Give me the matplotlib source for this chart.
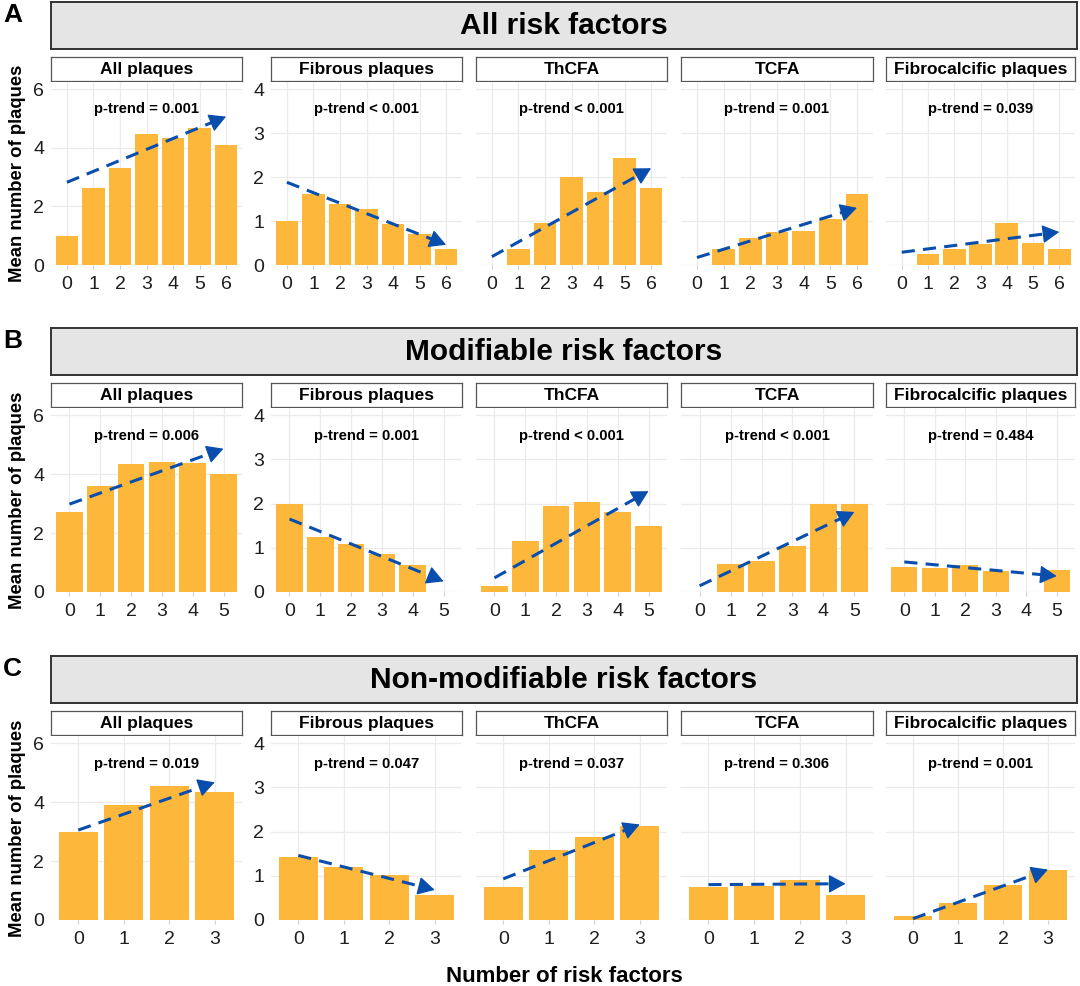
import numpy as np
import matplotlib
matplotlib.use("Agg")
import matplotlib.pyplot as plt

plt.rcParams['font.family'] = ['Liberation Sans', 'DejaVu Sans']

# ---- data ----
section_letters = ["A", "B", "C"]
section_titles = ["All risk factors", "Modifiable risk factors", "Non-modifiable risk factors"]
plaque_types = ["All plaques", "Fibrous plaques", "ThCFA", "TCFA", "Fibrocalcific plaques"]

n_factors_A = [0, 1, 2, 3, 4, 5, 6]
n_factors_B = [0, 1, 2, 3, 4, 5]
n_factors_C = [0, 1, 2, 3]

# mean number of plaques, A = all risk factors
A_all = [1.00, 2.61, 3.31, 4.48, 4.32, 4.67, 4.10]
A_fibrous = [1.00, 1.62, 1.39, 1.28, 0.93, 0.70, 0.37]
A_thcfa = [0.00, 0.37, 0.96, 2.00, 1.66, 2.44, 1.75]
A_tcfa = [0.00, 0.37, 0.61, 0.75, 0.77, 1.05, 1.62]
A_fibrocalc = [0.00, 0.26, 0.36, 0.47, 0.96, 0.51, 0.37]

# B = modifiable risk factors
B_all = [2.71, 3.60, 4.35, 4.41, 4.38, 4.00]
B_fibrous = [2.00, 1.24, 1.09, 0.87, 0.60, 0.00]
B_thcfa = [0.14, 1.16, 1.94, 2.03, 1.80, 1.50]
B_tcfa = [0.00, 0.64, 0.71, 1.03, 2.00, 2.00]
B_fibrocalc = [0.57, 0.55, 0.61, 0.48, 0.00, 0.50]

# C = non-modifiable risk factors
C_all = [3.00, 3.91, 4.54, 4.34]
C_fibrous = [1.42, 1.19, 1.01, 0.56]
C_thcfa = [0.75, 1.58, 1.87, 2.12]
C_tcfa = [0.75, 0.77, 0.90, 0.56]
C_fibrocalc = [0.09, 0.39, 0.79, 1.12]

ptrend_A = ["p-trend = 0.001", "p-trend < 0.001", "p-trend < 0.001", "p-trend = 0.001", "p-trend = 0.039"]
ptrend_B = ["p-trend = 0.006", "p-trend = 0.001", "p-trend < 0.001", "p-trend < 0.001", "p-trend = 0.484"]
ptrend_C = ["p-trend = 0.019", "p-trend = 0.047", "p-trend = 0.037", "p-trend = 0.306", "p-trend = 0.001"]

# trend line value at the first and at the last category
trend_A = [(2.82, 5.06), (1.88, 0.46), (0.19, 2.20), (0.17, 1.30), (0.29, 0.75)]
trend_B = [(2.98, 4.86), (1.65, 0.24), (0.32, 2.28), (0.14, 1.81), (0.68, 0.36)]
trend_C = [(3.05, 4.67), (1.46, 0.68), (0.93, 2.16), (0.80, 0.82), (0.03, 1.14)]

sections = [
    (n_factors_A, [A_all, A_fibrous, A_thcfa, A_tcfa, A_fibrocalc], ptrend_A, trend_A),
    (n_factors_B, [B_all, B_fibrous, B_thcfa, B_tcfa, B_fibrocalc], ptrend_B, trend_B),
    (n_factors_C, [C_all, C_fibrous, C_thcfa, C_tcfa, C_fibrocalc], ptrend_C, trend_C),
]

# ---- layout in pixels ----
W, H = 1080, 986
bar_color = "#FDB83C"
arrow_color = "#0A4EAD"
grid_color = "#EBEBEB"

panel_x = [(51, 242), (271, 462), (476, 667), (681, 873), (886, 1075)]
box_top = [2, 328, 656]
strip_top = [57, 383, 711]
zero_line = [265, 592, 920]


def rect(x0, y0, x1, y1):
    # pixel box (top-left origin) -> figure fraction
    return [x0 / W, 1 - y1 / H, (x1 - x0) / W, (y1 - y0) / H]


fig = plt.figure(figsize=(W / 100, H / 100), dpi=100)

for r, (cats, series, ptexts, trends) in enumerate(sections):
    # section header
    hx = fig.add_axes(rect(51, box_top[r], 1077, box_top[r] + 47))
    hx.set_facecolor("#E5E5E5")
    hx.set_xticks([])
    hx.set_yticks([])
    for s in hx.spines.values():
        s.set_color("#333333")
        s.set_linewidth(1.4)
    hx.text(0.5, 0.5, section_titles[r], ha="center", va="center",
            fontsize=21.5, fontweight="bold", transform=hx.transAxes)
    fig.text(12.5 / W, 1 - (box_top[r] + 13) / H, section_letters[r],
             ha="center", va="center", fontsize=19, fontweight="bold")

    top = strip_top[r] + 25
    for p in range(5):
        x0, x1 = panel_x[p]
        # strip
        sx = fig.add_axes(rect(x0, strip_top[r], x1, strip_top[r] + 24))
        sx.set_xticks([])
        sx.set_yticks([])
        for s in sx.spines.values():
            s.set_color("#555555")
            s.set_linewidth(0.9)
        sx.text(0.5, 0.48, plaque_types[p], ha="center", va="center",
                fontsize=12.5, fontweight="bold", transform=sx.transAxes)

        ax = fig.add_axes(rect(x0, top, x1, zero_line[r]))
        vals = series[p]
        ax.bar(cats, vals, width=0.86, color=bar_color, zorder=2)

        ymax = 6 if p == 0 else 4
        ax.set_ylim(0, ymax * 1.04)
        ax.set_xlim(-0.6, len(cats) - 0.4)
        ax.set_yticks(np.arange(0, ymax + 1, 2 if p == 0 else 1))
        ax.set_xticks(cats)
        ax.set_xticklabels([str(c) for c in cats])
        ax.set_axisbelow(True)
        ax.grid(True, color=grid_color, linewidth=0.9)
        for s in ax.spines.values():
            s.set_visible(False)
        ax.tick_params(axis="x", length=3, color="#D0D0D0", labelsize=14,
                       labelcolor="#1E1E1E", pad=5)
        ax.tick_params(axis="y", length=0, labelsize=14, labelcolor="#1E1E1E", pad=5)
        if p > 1:
            ax.set_yticklabels([])

        ax.text(0.5, 0.85, ptexts[p], ha="center", va="center", fontsize=10.7,
                fontweight="bold", transform=ax.transAxes)

        # dashed trend line with a closed arrow head
        xs, xe = cats[0], cats[-1]
        ys, ye = trends[p]
        f = 0.95
        ax.plot([xs, xs + f * (xe - xs)], [ys, ys + f * (ye - ys)], color=arrow_color,
                lw=2.2, dashes=(4.3, 2.7), solid_capstyle="butt", dash_capstyle="butt", zorder=3)
        ax.annotate("", xy=(xe, ye), xytext=(xe - 0.03 * (xe - xs), ye - 0.03 * (ye - ys)),
                    arrowprops=dict(arrowstyle="-|>,head_length=0.55,head_width=0.3",
                                    color=arrow_color, lw=1, shrinkA=0, shrinkB=0,
                                    mutation_scale=19), zorder=4)

    fig.text(18 / W, 1 - ((top + zero_line[r]) / 2) / H, "Mean number of plaques",
             rotation=90, ha="center", va="center", fontsize=13.3, fontweight="bold")

fig.text(564 / W, 1 - 976 / H, "Number of risk factors", ha="center", va="center",
         fontsize=16, fontweight="bold")

fig.savefig("out.png", dpi=100, facecolor="white")
